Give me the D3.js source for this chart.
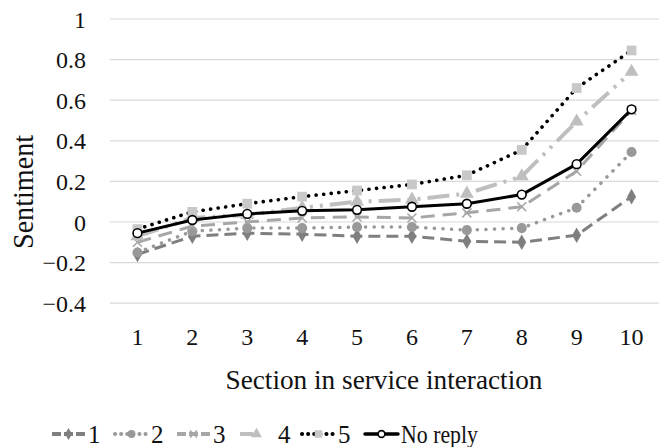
<!DOCTYPE html>
<html><head><meta charset="utf-8">
<script src="https://cdn.jsdelivr.net/npm/d3@7"></script>
<style>body{margin:0;background:#fff}svg{display:block}text{font-family:"Liberation Serif",serif;fill:#111}</style>
</head><body><svg id="c" width="659" height="447"></svg>
<script>
const categories = ["1","2","3","4","5","6","7","8","9","10"];
const s1 = [-0.16,-0.07,-0.055,-0.06,-0.07,-0.07,-0.095,-0.10,-0.065,0.125];
const s2 = [-0.15,-0.045,-0.03,-0.03,-0.025,-0.025,-0.04,-0.03,0.07,0.345];
const s3 = [-0.10,-0.02,0.0,0.02,0.025,0.02,0.045,0.075,0.25,0.55];
const s4 = [-0.07,0.02,0.035,0.07,0.10,0.11,0.14,0.225,0.495,0.74];
const s5 = [-0.035,0.05,0.09,0.125,0.155,0.185,0.23,0.355,0.66,0.845];
const noReply = [-0.055,0.01,0.04,0.055,0.06,0.075,0.09,0.135,0.285,0.555];
const yTicks = [-0.4,-0.2,0,0.2,0.4,0.6,0.8,1];
const seriesNames = ["1","2","3","4","5","No reply"];

const svg = d3.select("#c");
const x = d3.scaleBand().domain(categories).range([110,659]);
const y = d3.scaleLinear().domain([-0.4,1]).range([303.2,19]);
const cx = c => x(c) + x.bandwidth()/2;

// grid
svg.append("g").selectAll("line").data(yTicks).join("line")
  .attr("x1",110).attr("x2",659).attr("y1",d=>y(d)).attr("y2",d=>y(d))
  .attr("stroke","#d9d9d9").attr("stroke-width",1.2);

// y axis labels
const ya = svg.append("g").attr("transform","translate(86,0)")
  .call(d3.axisLeft(y).tickValues(yTicks).tickSize(0).tickPadding(0).tickFormat(d=>d3.format("")(+d.toFixed(1))));
ya.select(".domain").remove();
ya.selectAll("text").attr("font-family","Liberation Serif").attr("font-size",24).attr("fill","#111").attr("dy","0.34em");

// x axis labels
const xa = svg.append("g").attr("transform","translate(0,347)")
  .call(d3.axisBottom(x).tickSize(0).tickPadding(0));
xa.select(".domain").remove();
xa.selectAll("text").attr("font-family","Liberation Serif").attr("font-size",24).attr("fill","#111").attr("dy","-0.1em");

svg.append("text").attr("x",384).attr("y",389).attr("text-anchor","middle").attr("font-size",28).attr("textLength",317).attr("lengthAdjust","spacingAndGlyphs").text("Section in service interaction");
svg.append("text").attr("transform","translate(33,192) rotate(-90)").attr("text-anchor","middle").attr("font-size",29).attr("textLength",114).attr("lengthAdjust","spacingAndGlyphs").text("Sentiment");

const styles = [
  {data:s1, color:"#7f7f7f", dash:"12,6", width:3, cap:"butt", marker:"diamond", mfill:"#7f7f7f", msize:70},
  {data:s2, color:"#999999", dash:"0.1,8.5", width:3.5, cap:"round", marker:"circle", mfill:"#999999", msize:80},
  {data:s3, color:"#a6a6a6", dash:"14,8", width:3, cap:"butt", marker:"x", mfill:"#a6a6a6", msize:55},
  {data:s4, color:"#bfbfbf", dash:"22,7,3,7,3,7", width:4, cap:"butt", marker:"triangle", mfill:"#bfbfbf", msize:85},
  {data:s5, color:"#000000", dash:"0.1,7.5", width:3.6, cap:"round", marker:"square", mfill:"#c8c8c8", msize:95},
  {data:noReply, color:"#000000", dash:null, width:3, cap:"round", marker:"open", mfill:"#fff", msize:60}
];

const line = d3.line().x((d,i)=>cx(categories[i])).y(d=>y(d));

function drawMarker(g, st, px, py, scale){
  scale = scale||1;
  const sym = {diamond:d3.symbolDiamond, circle:d3.symbolCircle, triangle:d3.symbolTriangle, square:d3.symbolSquare, open:d3.symbolCircle, x:d3.symbolX}[st.marker];
  const p = g.append("path").attr("transform",`translate(${px},${py})`)
    .attr("d", d3.symbol().type(sym).size(st.msize*scale)());
  if(st.marker==="x"){ p.attr("fill","none").attr("stroke",st.mfill).attr("stroke-width",1.5); }
  else if(st.marker==="open"){ p.attr("fill","#fff").attr("stroke","#000").attr("stroke-width",1.6); }
  else { p.attr("fill",st.mfill); }
}

styles.forEach(st=>{
  const g = svg.append("g");
  g.append("path").datum(st.data).attr("d",line).attr("fill","none")
    .attr("stroke",st.color).attr("stroke-width",st.width).attr("stroke-linecap",st.cap)
    .attr("stroke-linejoin","round").attr("stroke-dasharray",st.dash);
  st.data.forEach((v,i)=>drawMarker(g, st, cx(categories[i]), y(v)));
});

// legend
const legX = [52,115,177,240,302,365];
const legDash = ["9,3","0.1,6","9,3","13,40",  "0.1,6", null];
const lg = svg.append("g");
styles.forEach((st,i)=>{
  const lx = legX[i], ly = 434;
  lg.append("line").attr("x1",lx).attr("x2",lx+33).attr("y1",ly).attr("y2",ly)
    .attr("stroke",st.color).attr("stroke-width",i===5?3.5:4).attr("stroke-linecap",st.cap)
    .attr("stroke-dasharray", legDash[i]);
  drawMarker(lg, st, lx+16.5, ly, 0.6);
  const t = lg.append("text").attr("x",lx+(i===3?38:36)).attr("y",ly+9).attr("font-size",25).text(seriesNames[i]);
  if(i===5) t.attr("textLength",77).attr("lengthAdjust","spacingAndGlyphs");
});
</script></body></html>
